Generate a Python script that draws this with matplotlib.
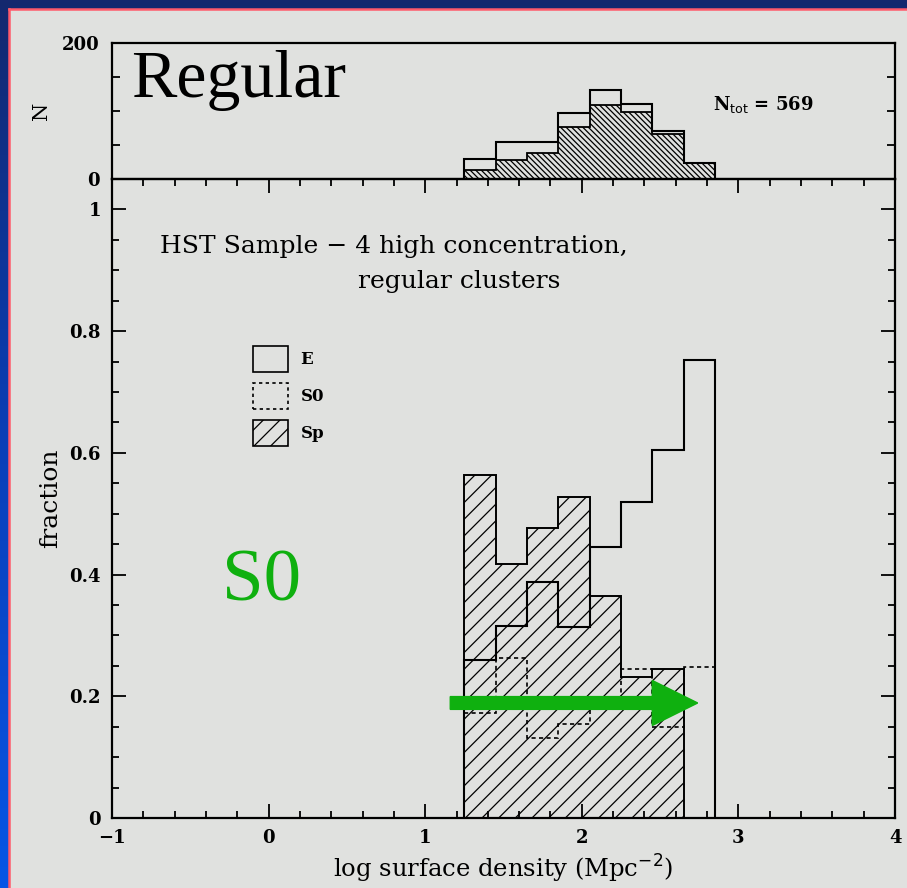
import numpy as np
import matplotlib
matplotlib.use("Agg")
import matplotlib.pyplot as plt
from matplotlib.patches import Rectangle, Patch, FancyArrow
from matplotlib.lines import Line2D
from matplotlib.colors import LinearSegmentedColormap
from matplotlib.ticker import MultipleLocator, FixedLocator

# ---------------- data ----------------
bin_edges = [1.25, 1.45, 1.65, 1.85, 2.05, 2.25, 2.45, 2.65, 2.85]
# fractions per bin
frac_E = [0.26, 0.316, 0.388, 0.314, 0.445, 0.52, 0.604, 0.752]
frac_S0 = [0.173, 0.263, 0.131, 0.155, 0.19, 0.245, 0.150, 0.248]
frac_Sp = [0.564, 0.418, 0.477, 0.528, 0.365, 0.232, 0.245, 0.0]
# counts per bin (top panel)
N_total = [29, 54, 54, 97, 131, 110, 70, 24]
N_hatched = [13, 28, 38, 77, 109, 99, 66, 24]
N_tot_label = 569
legend_labels = ["E", "S0", "Sp"]
x_ticks = [-1, 0, 1, 2, 3, 4]
x_ticklabels = ["\u22121", "0", "1", "2", "3", "4"]
frac_ticks = [0, 0.2, 0.4, 0.6, 0.8, 1]
frac_ticklabels = ["0", "0.2", "0.4", "0.6", "0.8", "1"]
N_ticks = [0, 200]
arrow_x = [1.16, 2.74]
arrow_y = 0.189

W, H = 907, 888
fig = plt.figure(figsize=(W / 100, H / 100), dpi=100)

SERIF = ["DejaVu Serif"]
GRAY = "#e0e1df"
GREEN = "#0fb00f"

# ---------------- slide background ----------------
bg = fig.add_axes([0, 0, 1, 1], zorder=-10)
bg.set_axis_off()
cmap = LinearSegmentedColormap.from_list("slide", ["#14286e", "#0a3fb8", "#0656e6"])
grad = np.linspace(0, 1, 256).reshape(-1, 1)
bg.imshow(grad, cmap=cmap, aspect="auto", extent=[0, 1, 0, 1], origin="upper")
bg.add_patch(Rectangle((10 / W, 0), 1, 1 - 10 / H, facecolor=GRAY, edgecolor="none",
                       transform=bg.transAxes))
bg.add_line(Line2D([9 / W, 9 / W], [0, 1 - 9 / H], color="#ff5a6a", lw=1.8,
                   transform=bg.transAxes))
bg.add_line(Line2D([9 / W, 1], [1 - 9 / H, 1 - 9 / H], color="#ff5a6a", lw=1.8,
                   transform=bg.transAxes))
bg.set_xlim(0, 1)
bg.set_ylim(0, 1)

plt.rcParams["hatch.linewidth"] = 0.9

left = 112 / W
width = 783 / W
ax = fig.add_axes([left, (H - 818) / H, width, 639 / H])
axt = fig.add_axes([left, (H - 179) / H, width, 136 / H])

for a in (ax, axt):
    a.set_facecolor("none")
    for s in a.spines.values():
        s.set_linewidth(1.6)
        s.set_color("black")

# ---------------- bottom panel ----------------
ax.stairs(frac_Sp, bin_edges, fill=True, facecolor="none", edgecolor="black",
          hatch="//", linewidth=1.4, zorder=2)
ax.stairs(frac_E, bin_edges, color="black", linewidth=1.5, zorder=3)
ax.stairs(frac_S0, bin_edges, color="black", linewidth=1.2, linestyle=(0, (2.5, 2)), zorder=3)

ax.set_xlim(-1, 4)
ax.set_ylim(0, 1.05)
ax.xaxis.set_major_locator(FixedLocator(x_ticks))
ax.set_xticklabels(x_ticklabels)
ax.xaxis.set_minor_locator(MultipleLocator(0.2))
ax.yaxis.set_major_locator(FixedLocator(frac_ticks))
ax.set_yticklabels(frac_ticklabels)
ax.yaxis.set_minor_locator(MultipleLocator(0.05))
ax.tick_params(which="both", direction="in", top=True, right=True, width=1.3,
               labelsize=13, colors="black")
ax.tick_params(which="major", length=10)
ax.tick_params(which="minor", length=5)
ax.tick_params(axis="x", which="major", pad=8)
ax.tick_params(axis="y", which="major", pad=8)
for lab in ax.get_xticklabels() + ax.get_yticklabels():
    lab.set_family(SERIF)
    lab.set_fontweight("bold")

ax.set_xlabel("log surface density (Mpc$^{-2}$)", family=SERIF, fontsize=17.5, labelpad=4)
ax.set_ylabel("fraction", family=SERIF, fontsize=18, labelpad=5)

ax.text(-0.693, 0.939, "HST Sample \u2212 4 high concentration,", family=SERIF,
        fontsize=18, ha="left", va="center")
ax.text(0.572, 0.882, "regular clusters", family=SERIF, fontsize=18,
        ha="left", va="center")

handles = [Patch(facecolor="none", edgecolor="black", linewidth=1.2),
           Patch(facecolor="none", edgecolor="black", linewidth=1.2, linestyle=(0, (2, 2))),
           Patch(facecolor="none", edgecolor="black", linewidth=1.2, hatch="//")]
leg = ax.legend(handles, legend_labels, loc="upper left",
                bbox_to_anchor=((253 - 112) / 783, (818 - 346) / 639),
                frameon=False, borderpad=0, borderaxespad=0,
                handlelength=2.1, handleheight=2.0, labelspacing=0.68,
                handletextpad=0.75, prop={"family": SERIF, "size": 12, "weight": "bold"})

ax.text(-0.30, 0.386, "S0", family=["Liberation Serif"], fontsize=54, color=GREEN,
        ha="left", va="center")

ax.add_patch(FancyArrow(arrow_x[0], arrow_y, arrow_x[1] - arrow_x[0], 0,
                        width=0.021, head_width=0.074, head_length=0.29,
                        length_includes_head=True, color=GREEN, zorder=5))

# ---------------- top panel ----------------
axt.stairs(N_hatched, bin_edges, fill=True, facecolor="none", edgecolor="black",
           hatch="\\\\\\\\\\\\", linewidth=1.3, zorder=2)
axt.stairs(N_total, bin_edges, color="black", linewidth=1.5, zorder=3)
axt.set_xlim(-1, 4)
axt.set_ylim(0, 200)
axt.set_xticks([])
axt.yaxis.set_major_locator(FixedLocator(N_ticks))
axt.set_yticklabels([str(v) for v in N_ticks])
axt.yaxis.set_minor_locator(FixedLocator([50, 100, 150]))
axt.tick_params(which="both", direction="in", right=True, width=1.3, labelsize=13, pad=9)
axt.tick_params(which="major", length=0)
axt.tick_params(which="minor", length=6)
for lab in axt.get_yticklabels():
    lab.set_family(SERIF)
    lab.set_fontweight("bold")
axt.set_ylabel("N", family=SERIF, fontsize=15, labelpad=8)

axt.text(2.84, 109, "N$_{\\rm tot}$ = " + str(N_tot_label), family=SERIF, fontsize=13,
         fontweight="bold", ha="left", va="center")
axt.text(-0.88, 145, "Regular", family=["Liberation Serif"], fontsize=49,
         ha="left", va="center", zorder=6)

fig.savefig("out.png", dpi=100, facecolor=GRAY)
